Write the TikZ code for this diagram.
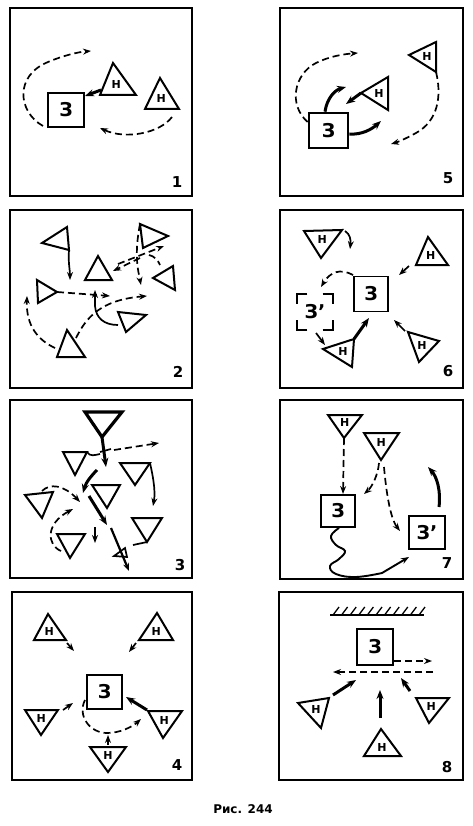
\documentclass[tikz,border=0pt]{standalone}
\usepackage{fontspec}
\setmainfont{DejaVu Sans}
\usetikzlibrary{arrows.meta,calc}
\newcommand\mytri[5]{%
  \coordinate (#1-a) at #2; \coordinate (#1-b) at #3; \coordinate (#1-c) at #4;
  \draw[trg] (#1-a) -- (#1-b) -- (#1-c) -- cycle;
  \node[tlab] (#1) at ($0.3333*(#1-a)+0.3333*(#1-b)+0.3334*(#1-c)$) {#5};}
\begin{document}
\begin{tikzpicture}[x=1pt,y=-1pt,
  frm/.style={line width=2pt},
  trg/.style={line width=2pt, line join=miter},
  box/.style={draw, line width=2pt, inner sep=0pt, font=\fontsize{19}{19}\selectfont\bfseries},
  tlab/.style={inner sep=0pt, font=\fontsize{11}{11}\selectfont\bfseries},
  num/.style={inner sep=0pt, font=\fontsize{15}{15}\selectfont\bfseries},
  ln/.style={line width=1.7pt},
  arr/.style={-{Stealth[length=8pt,width=6pt]}, line width=1.7pt},
  dsh/.style={arr, dash pattern=on 7pt off 4pt},
  dln/.style={ln, dash pattern=on 7pt off 4pt},
  thk/.style={-{Stealth[length=9pt,width=7pt]}, line width=3pt}]
\useasboundingbox (0,0) rectangle (472,826);
\fill[white] (0,0) rectangle (472,826);

% ================= Panel 1 =================
\draw[frm] (10,8) rectangle (192,196);
\node[box, minimum width=36pt, minimum height=34pt] (z1) at (66,110) {З};
\mytri{t1a}{(113,63)}{(100,95)}{(136,95)}{Н}
\mytri{t1b}{(160,78)}{(145,109)}{(179,109)}{Н}
\coordinate (p1a) at (101,90);
\draw[thk] (p1a) -- (z1.north east |- 0,96);
\coordinate (p1b) at (43,126);
\coordinate (p1c) at (91,51);
\draw[dsh] (p1b) .. controls (18,112) and (14,76) .. (48,62) .. controls (62,56) and (78,52) .. (p1c);
\coordinate (p1d) at (172,117);
\coordinate (p1e) at (100,128);
\draw[dsh] (p1d) .. controls (160,133) and (126,140) .. (p1e);
\node[num] (n1) at (177,182) {1};

% ================= Panel 5 =================
\draw[frm] (280,8) rectangle (463,196);
\node[box, line width=2.6pt, minimum width=39pt, minimum height=35pt] (z5) at (328.5,130.5) {З};
\mytri{t5a}{(409,55)}{(436,42)}{(436,72)}{Н}
\mytri{t5b}{(361,93)}{(388,77)}{(388,110)}{Н}
\coordinate (p5a) at (346,87);
\draw[thk] (z5.north -| 325,0) .. controls (327,98) and (335,90) .. (p5a);
\coordinate (p5b) at (346,104);
\draw[thk] (t5b-a) -- (p5b);
\coordinate (p5c) at (381,121);
\draw[thk] (z5.east |- 0,134) .. controls (362,135) and (372,129) .. (p5c);
\coordinate (p5d) at (358,53);
\draw[dsh] (z5.west |- 0,122) .. controls (288,105) and (294,74) .. (316,63) .. controls (330,56) and (345,54) .. (p5d);
\coordinate (p5e) at (391,144);
\draw[dsh] (t5a-c) .. controls (442,96) and (438,121) .. (416,133) .. controls (405,139) and (398,142) .. (p5e);
\node[num] (n5) at (448,178) {5};

% ================= Panel 2 =================
\draw[frm] (10,210) rectangle (192,388);
\mytri{t2a}{(42,243)}{(67,227)}{(69,250)}{}
\mytri{t2b}{(98,256)}{(85,280)}{(112,280)}{}
\mytri{t2c}{(140,224)}{(168,236)}{(143,248)}{}
\mytri{t2d}{(153,278)}{(173,266)}{(175,290)}{}
\mytri{t2e}{(37,280)}{(57,292)}{(38,303)}{}
\mytri{t2f}{(118,312)}{(146,315)}{(126,332)}{}
\mytri{t2g}{(67,330)}{(57,357)}{(85,357)}{}
\coordinate (p2a) at (70,280);
\draw[arr] (t2a-c) .. controls (68,262) and (70,270) .. (p2a);
\coordinate (p2b) at (110,296);
\draw[dsh] (t2e-b) -- (p2b);
\coordinate (p2c) at (95,306); \coordinate (p2d) at (95,290);
\draw[arr] (p2c) -- (p2d);
\coordinate (p2e) at (76,338); \coordinate (p2f) at (147,296);
\draw[dsh] (p2e) .. controls (86,318) and (100,300) .. (p2f);
\coordinate (p2g) at (55,348); \coordinate (p2h) at (27,296);
\draw[dsh] (p2g) .. controls (38,340) and (26,326) .. (p2h);
\coordinate (p2x) at (118,325);
\draw[ln] (p2c) .. controls (96,318) and (104,325) .. (p2x);
\coordinate (p2i) at (140,258); \coordinate (p2j) at (113,271);
\draw[dsh] (p2i) -- (p2j);
\coordinate (p2k) at (118,264); \coordinate (p2l) at (164,246);
\draw[dsh] (p2k) -- (p2l);
\coordinate (p2m) at (141,285);
\draw[dsh] (t2c-a) .. controls (134,255) and (138,270) .. (p2m);
\coordinate (p2n) at (149,255); \coordinate (p2o) at (160,265);
\draw[dln] (p2n) .. controls (154,256) and (158,260) .. (p2o);
\node[num] (n2) at (178,372) {2};

% ================= Panel 6 =================
\draw[frm] (280,210) rectangle (463,388);
\mytri{t6a}{(304,231)}{(342,230)}{(321,258)}{Н}
\mytri{t6b}{(428,237)}{(416,265)}{(448,265)}{Н}
\mytri{t6c}{(323,349)}{(354,339)}{(352,367)}{Н}
\mytri{t6d}{(408,332)}{(439,341)}{(419,362)}{Н}
\node[box, line width=1.8pt, minimum width=34pt, minimum height=35pt] (z6) at (371,294) {З};
\node[inner sep=0pt, minimum width=35pt, minimum height=35pt, font=\fontsize{19}{19}\selectfont\bfseries] (z6b) at (315,312) {З'};
\foreach \c/\dx/\dy in {north west/1/-1, north east/-1/-1, south west/1/1, south east/-1/1}{
  \draw[line width=2pt] ([xshift=\dx*10pt]z6b.\c) -- (z6b.\c) -- ([yshift=\dy*10pt]z6b.\c);}
\coordinate (p6a) at (345,231); \coordinate (p6b) at (350,249);
\draw[arr] (p6a) .. controls (350,234) and (351,240) .. (p6b);
\coordinate (p6c) at (409,266); \coordinate (p6d) at (399,275);
\draw[arr] (p6c) -- (p6d);
\coordinate (p6e) at (321,287);
\draw[dsh] (z6.west |- 0,275) .. controls (340,268) and (330,272) .. (p6e);
\coordinate (p6f) at (316,333); \coordinate (p6g) at (325,345);
\draw[arr] (p6f) -- (p6g);
\coordinate (p6h) at (369,318);
\draw[thk] (t6c-b) -- (p6h);
\coordinate (p6i) at (405,331); \coordinate (p6j) at (394,320);
\draw[arr] (p6i) -- (p6j);
\node[num] (n6) at (448,371) {6};

% ================= Panel 3 =================
\draw[frm] (10,400) rectangle (192,578);
\coordinate (t3a-a) at (85,412); \coordinate (t3a-b) at (122,412); \coordinate (t3a-c) at (102,437);
\draw[trg, line width=3.2pt] (t3a-a) -- (t3a-b) -- (t3a-c) -- cycle;
\mytri{t3b}{(63,452)}{(87,452)}{(75,475)}{}
\mytri{t3c}{(120,463)}{(150,463)}{(135,485)}{}
\mytri{t3d}{(92,485)}{(120,485)}{(107,508)}{}
\mytri{t3e}{(25,495)}{(53,492)}{(42,518)}{}
\mytri{t3f}{(132,518)}{(162,518)}{(147,542)}{}
\mytri{t3g}{(57,534)}{(85,534)}{(70,558)}{}
\coordinate (t3h-a) at (114,556); \coordinate (t3h-b) at (125,548); \coordinate (t3h-c) at (127,557);
\draw[ln] (t3h-a) -- (t3h-b) -- (t3h-c) -- cycle;
\coordinate (p3a) at (106,467);
\draw[thk] (t3a-c) -- (p3a);
\coordinate (p3b1) at (100,452); \coordinate (p3b2) at (111,449);
\draw[ln] (p3b1) -- (p3b2);
\coordinate (p3c) at (114,450); \coordinate (p3d) at (159,443);
\draw[dsh] (p3c) -- (p3d);
\coordinate (p3e) at (100,454);
\draw[ln] (t3b-b) .. controls (90,457) and (95,455) .. (p3e);
\coordinate (p3f) at (97,470); \coordinate (p3g) at (83,493);
\draw[thk] (p3f) .. controls (92,475) and (86,482) .. (p3g);
\coordinate (p3h) at (153,506);
\draw[arr] (t3c-b) .. controls (152,472) and (156,490) .. (p3h);
\coordinate (p3i) at (42,491); \coordinate (p3j) at (80,502);
\draw[dsh] (p3i) .. controls (50,483) and (64,485) .. (p3j);
\coordinate (p3k) at (89,496); \coordinate (p3l) at (107,525);
\draw[thk] (p3k) -- (p3l);
\coordinate (p3m) at (111,528); \coordinate (p3n) at (129,571);
\draw[arr, line width=2.2pt] (p3m) -- (p3n);
\coordinate (p3o) at (95,527); \coordinate (p3p) at (95,543);
\draw[arr] (p3o) -- (p3p);
\coordinate (p3q) at (61,551); \coordinate (p3r) at (73,509);
\draw[dsh] (p3q) .. controls (47,545) and (45,524) .. (p3r);
\coordinate (p3s) at (133,545);
\draw[ln] (t3f-c) -- (p3s);
\node[num] (n3) at (180,565) {3};

% ================= Panel 7 =================
\draw[frm] (280,400) rectangle (463,579);
\mytri{t7a}{(328,415)}{(362,415)}{(344,438)}{Н}
\mytri{t7b}{(364,433)}{(399,433)}{(381,460)}{Н}
\node[box, line width=2.1pt, minimum width=34pt, minimum height=32pt] (z7) at (338,511) {З};
\node[box, line width=2.6pt, minimum width=36pt, minimum height=33pt] (z7b) at (427,532.5) {З'};
\draw[dsh] (t7a-c) -- (z7.north -| 343,0);
\coordinate (p7a) at (364,494);
\draw[dsh] (379,463) .. controls (378,475) and (372,487) .. (p7a);
\coordinate (p7b) at (400,531);
\draw[dsh] (384,467) .. controls (386,490) and (390,518) .. (p7b);
\coordinate (p7c) at (439,507); \coordinate (p7d) at (428,467);
\draw[thk] (p7c) .. controls (441,491) and (437,477) .. (p7d);
\coordinate (p7e) at (409,557);
\draw[arr, line width=1.9pt] plot[smooth, tension=0.7] coordinates {(339,528) (331,536) (336,545) (345,551) (339,559) (330,566) (336,574) (356,577) (382,573)} -- (p7e);
\node[num] (n7) at (447,563) {7};

% ================= Panel 4 =================
\draw[frm] (12,592) rectangle (192,780);
\node[box, minimum width=35pt, minimum height=34pt] (z4) at (104.5,692) {З};
\mytri{t4a}{(48,614)}{(34,640)}{(66,640)}{Н}
\mytri{t4b}{(157,613)}{(139,640)}{(173,640)}{Н}
\mytri{t4c}{(25,710)}{(58,710)}{(41,735)}{Н}
\mytri{t4d}{(148,711)}{(182,711)}{(163,738)}{Н}
\mytri{t4e}{(90,747)}{(126,747)}{(108,772)}{Н}
\coordinate (p4a) at (67,643); \coordinate (p4b) at (74,651);
\draw[arr] (p4a) -- (p4b);
\coordinate (p4c) at (136,643); \coordinate (p4d) at (129,652);
\draw[arr] (p4c) -- (p4d);
\coordinate (p4e) at (63,710); \coordinate (p4f) at (73,703);
\draw[arr] (p4e) -- (p4f);
\coordinate (p4g) at (147,710); \coordinate (p4h) at (126,697);
\draw[thk] (p4g) -- (p4h);
\coordinate (p4i) at (85,700); \coordinate (p4j) at (141,719);
\draw[dsh] (p4i) .. controls (77,716) and (90,733) .. (107,733) .. controls (120,733) and (132,727) .. (p4j);
\coordinate (p4k) at (108,745); \coordinate (p4l) at (108,735);
\draw[arr] (p4k) -- (p4l);
\node[num] (n4) at (177,765) {4};

% ================= Panel 8 =================
\draw[frm] (279,592) rectangle (463,780);
\coordinate (w8a) at (330,615); \coordinate (w8b) at (424,615);
\draw[line width=2pt] (w8a) -- (w8b);
\foreach \i in {0,...,10}{\draw[line width=1.3pt] ($(w8a)+(3+8.6*\i,0)$) -- ++(6,-8);}
\node[box, minimum width=36pt, minimum height=36pt] (z8) at (375,647) {З};
\coordinate (p8a) at (433,672); \coordinate (p8b) at (333,672);
\draw[dsh] (p8a) -- (p8b);
\coordinate (p8c) at (432,661);
\draw[dsh] (z8.east |- 0,661) -- (p8c);
\mytri{t8a}{(298,703)}{(329,698)}{(321,728)}{Н}
\mytri{t8b}{(416,698)}{(449,698)}{(429,723)}{Н}
\mytri{t8c}{(381,729)}{(364,756)}{(401,756)}{Н}
\coordinate (p8d) at (333,695); \coordinate (p8e) at (356,680);
\draw[thk] (p8d) -- (p8e);
\coordinate (p8f) at (380,718); \coordinate (p8g) at (380,690);
\draw[thk] (p8f) -- (p8g);
\coordinate (p8h) at (410,691); \coordinate (p8i) at (401,678);
\draw[thk] (p8h) -- (p8i);
\node[num] (n8) at (447,767) {8};

% ================= Caption =================
\node[inner sep=0pt, font=\fontsize{12}{12}\selectfont\bfseries] (cap) at (243,809) {Рис. 244};
\end{tikzpicture}
\end{document}
